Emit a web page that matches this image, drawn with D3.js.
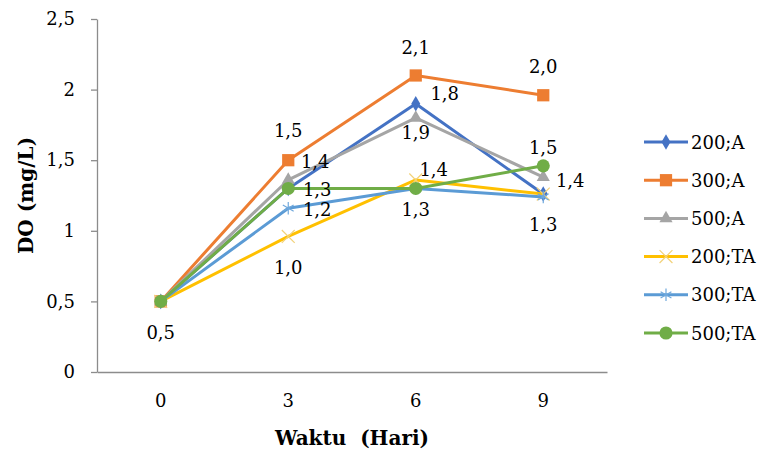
<!DOCTYPE html>
<html>
<head>
<meta charset="utf-8">
<script src="https://cdn.jsdelivr.net/npm/d3@7"></script>
<style>
  html, body { margin: 0; padding: 0; background: #fff; }
  svg { display: block; }
  svg text { font-family: 'DejaVu Serif', serif !important; }
</style>
</head>
<body>
<svg id="chart" width="764" height="453"></svg>
<script>
// Sampling days (x categories)
const days = ["0", "3", "6", "9"];

// Dissolved oxygen (mg/L) per treatment
const s200A  = [0.5, 1.30, 1.90, 1.26];
const s300A  = [0.5, 1.50, 2.10, 1.96];
const s500A  = [0.5, 1.36, 1.80, 1.38];
const s200TA = [0.5, 0.96, 1.36, 1.26];
const s300TA = [0.5, 1.16, 1.30, 1.24];
const s500TA = [0.5, 1.30, 1.30, 1.46];

const seriesNames = ["200;A", "300;A", "500;A", "200;TA", "300;TA", "500;TA"];
const seriesValues = [s200A, s300A, s500A, s200TA, s300TA, s500TA];

const yTicks = [0, 0.5, 1, 1.5, 2, 2.5];

// Which points carry a value label, and where the label sits relative to the point
const labelPlacement = [
  { s: 0, i: 0, dx: 0,  dy: 31 },
  { s: 0, i: 2, dx: 0,  dy: 29 },
  { s: 0, i: 3, dx: 0,  dy: 30 },
  { s: 1, i: 1, dx: 0,  dy: -30 },
  { s: 1, i: 2, dx: 0,  dy: -28 },
  { s: 1, i: 3, dx: 0,  dy: -29 },
  { s: 2, i: 1, dx: 27, dy: -18 },
  { s: 2, i: 2, dx: 29, dy: -24 },
  { s: 2, i: 3, dx: 27, dy: 3 },
  { s: 3, i: 1, dx: 0,  dy: 31 },
  { s: 3, i: 2, dx: 18, dy: -10 },
  { s: 4, i: 1, dx: 29, dy: 1 },
  { s: 5, i: 1, dx: 29, dy: 1 },
  { s: 5, i: 2, dx: 0,  dy: 21 },
  { s: 5, i: 3, dx: 0,  dy: -18 }
];

const styles = [
  { color: "#4472C4", symbol: d3.symbolDiamond,  size: 70,  stroke: false },
  { color: "#ED7D31", symbol: d3.symbolSquare,   size: 150, stroke: false },
  { color: "#A5A5A5", symbol: d3.symbolTriangle, size: 75,  stroke: false },
  { color: "#FFC000", symbol: d3.symbolTimes,    size: 110, stroke: true, markColor: "#F2D27A" },
  { color: "#5B9BD5", symbol: d3.symbolAsterisk, size: 110, stroke: true, markColor: "#6FA8DC" },
  { color: "#70AD47", symbol: d3.symbolCircle,   size: 135, stroke: false }
];

const svg = d3.select("#chart");
const plot = { left: 97, right: 607, top: 19, bottom: 372 };

const x = d3.scaleBand().domain(days).range([plot.left, plot.right]).padding(0);
const cx = d => x(d) + x.bandwidth() / 2;
const y = d3.scaleLinear().domain([0, 2.5]).range([plot.bottom, plot.top]);

const fmtTick = d => String(d).replace(".", ",");
const fmtVal = v => (Math.round(v * 10) / 10).toFixed(1).replace(".", ",");

const axisColor = "#8C8C8C";

// Y axis
const yAxis = svg.append("g")
  .attr("transform", `translate(${plot.left},0)`)
  .call(d3.axisLeft(y).tickValues(yTicks).tickFormat(fmtTick).tickSize(6).tickSizeOuter(0).tickPadding(16));
yAxis.select(".domain").attr("stroke", axisColor).attr("stroke-width", 1.3);
yAxis.selectAll(".tick line").attr("stroke", axisColor).attr("stroke-width", 1.3);
yAxis.selectAll(".tick text").attr("fill", "#000").attr("font-size", 18);

// X axis
const xAxis = svg.append("g")
  .attr("transform", `translate(0,${plot.bottom})`)
  .call(d3.axisBottom(x).tickSize(0).tickSizeOuter(0).tickPadding(22));
xAxis.select(".domain").attr("stroke", axisColor).attr("stroke-width", 1.3);
xAxis.selectAll(".tick text").attr("fill", "#000").attr("font-size", 18);

// Axis titles
svg.append("text")
  .attr("x", (plot.left + plot.right) / 2).attr("y", 445)
  .attr("text-anchor", "middle")
  .attr("font-size", 20).attr("font-weight", "bold")
  .style("white-space", "pre")
  .text("Waktu  (Hari)");

svg.append("text")
  .attr("transform", `translate(33,${(plot.top + plot.bottom) / 2}) rotate(-90)`)
  .attr("text-anchor", "middle")
  .attr("font-size", 20).attr("font-weight", "bold")
  .text("DO (mg/L)");

// Lines and markers
const line = d3.line().x((v, i) => cx(days[i])).y(v => y(v));

seriesValues.forEach((vals, si) => {
  const st = styles[si];
  const g = svg.append("g");
  g.append("path")
    .datum(vals)
    .attr("d", line)
    .attr("fill", "none")
    .attr("stroke", st.color)
    .attr("stroke-width", 3)
    .attr("stroke-linejoin", "round");
  g.selectAll("path.mark")
    .data(vals)
    .join("path")
    .attr("class", "mark")
    .attr("transform", (v, i) => `translate(${cx(days[i])},${y(v)})`)
    .attr("d", d3.symbol().type(st.symbol).size(st.size))
    .attr("fill", st.stroke ? "none" : st.color)
    .attr("stroke", st.stroke ? st.markColor : "none")
    .attr("stroke-width", st.stroke ? 1.2 : 0);
});

// Value labels
svg.append("g").selectAll("text")
  .data(labelPlacement)
  .join("text")
  .attr("x", d => cx(days[d.i]) + d.dx)
  .attr("y", d => y(seriesValues[d.s][d.i]) + d.dy)
  .attr("text-anchor", "middle")
  .attr("dominant-baseline", "central")
  .attr("font-size", 18)
  .attr("fill", "#000")
  .text(d => fmtVal(seriesValues[d.s][d.i]));

// Legend
const legend = svg.append("g").attr("transform", "translate(644,142)");
seriesNames.forEach((name, si) => {
  const st = styles[si];
  const row = legend.append("g").attr("transform", `translate(0,${si * 38.2})`);
  row.append("line").attr("x1", 0).attr("x2", 44).attr("y1", 0).attr("y2", 0)
    .attr("stroke", st.color).attr("stroke-width", 3);
  row.append("path")
    .attr("transform", "translate(22,0)")
    .attr("d", d3.symbol().type(st.symbol).size(st.size))
    .attr("fill", st.stroke ? "none" : st.color)
    .attr("stroke", st.stroke ? st.markColor : "none")
    .attr("stroke-width", st.stroke ? 1.2 : 0);
  row.append("text")
    .attr("x", 47).attr("y", 0)
    .attr("dominant-baseline", "central")
    .attr("font-size", 18)
    .attr("fill", "#000")
    .text(name);
});
</script>
</body>
</html>
